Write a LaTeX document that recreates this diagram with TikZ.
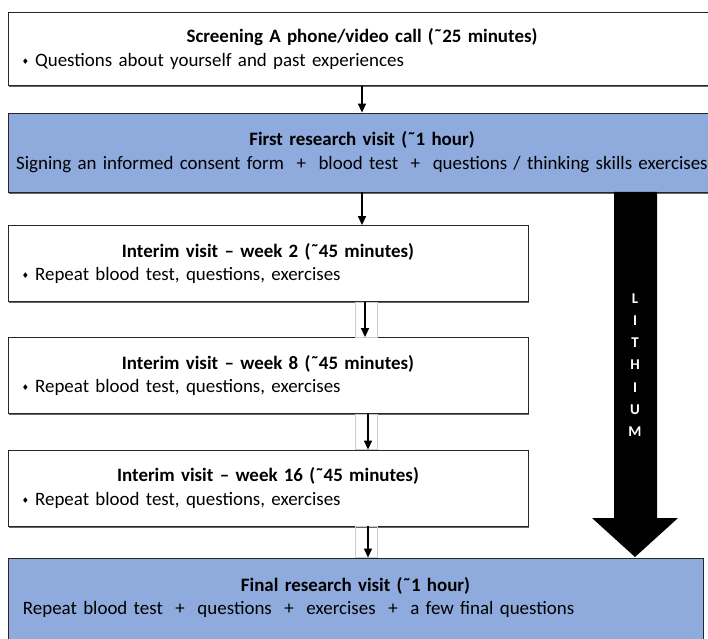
\documentclass[tikz,border=0pt]{standalone}
\usepackage{fontspec}
\setmainfont{Carlito}
\newfontfamily\symbolfont{DejaVu Sans}
\usetikzlibrary{arrows.meta,shadows}

\definecolor{visitblue}{HTML}{8FAADC}
\tikzset{
    visitbox/.style={rectangle, draw=black!85, line width=0.8bp, fill=white, inner xsep=14bp, inner ysep=0pt,
        align=center, font=\fontsize{19}{24}\selectfont,
        drop shadow={shadow xshift=1.2bp, shadow yshift=-1.6bp, fill=black!60, opacity=1}},
    bluebox/.style={visitbox, fill=visitblue},
    interim/.style={visitbox, minimum width=520bp, minimum height=76bp, text width=492bp},
    flow/.style={-{Triangle[length=9bp,width=8bp]}, line width=1.4bp},
    guide/.style={draw=black!20, line width=0.5bp}
}
\newcommand{\itembullet}{\raisebox{0.12em}{\symbolfont\fontsize{8}{8}\selectfont ♦}\hspace{6bp}}
\newcommand{\bulletline}[1]{\makebox[\hsize][l]{\itembullet #1}}

\begin{document}
\begin{tikzpicture}[x=1bp, y=-1bp]
    \useasboundingbox (0,0) rectangle (708,639);
    \clip (0,0) rectangle (708,639);

    \node[visitbox, minimum width=708bp, minimum height=73bp, text width=680bp] (screening) at (362,49)
        {\textbf{Screening A phone/video call (˜25 minutes)}\\\bulletline{Questions about yourself and past experiences}};
    \node[bluebox, minimum width=708bp, minimum height=79bp, text width=708bp, inner xsep=0pt] (firstvisit) at (362,152.5)
        {\textbf{First research visit (˜1 hour)}\\Signing an informed consent form \ + \ blood test \ + \ questions / thinking skills exercises};
    \node[interim] (week2) at (268,263.5)
        {\textbf{Interim visit – week 2 (˜45 minutes)}\\\bulletline{Repeat blood test, questions, exercises}};
    \node[interim] (week8) at (268,375.5)
        {\textbf{Interim visit – week 8 (˜45 minutes)}\\\bulletline{Repeat blood test, questions, exercises}};
    \node[interim] (week16) at (268,488)
        {\textbf{Interim visit – week 16 (˜45 minutes)}\\\bulletline{Repeat blood test, questions, exercises}};
    \node[bluebox, minimum width=695bp, minimum height=100bp, text width=665bp, inner xsep=15bp] (finalvisit) at (355.5,608)
        {\textbf{Final research visit (˜1 hour)}\\\makebox[\hsize][l]{Repeat blood test \ + \ questions \ + \ exercises \ + \ a few final questions\rule[-24bp]{0pt}{0pt}}};

    \draw[flow] (screening) -- (firstvisit);
    \draw[flow] (firstvisit.south) -- (firstvisit.south |- week2.north);
    \draw[guide] ([xshift=87bp]week2.south) rectangle ([xshift=109bp]week8.north);
    \draw[flow] ([xshift=97bp]week2.south) -- ([xshift=97bp]week8.north);
    \draw[guide] ([xshift=87bp]week8.south) rectangle ([xshift=109bp]week16.north);
    \draw[flow] ([xshift=100bp]week8.south) -- ([xshift=100bp]week16.north);
    \draw[guide] ([xshift=87bp]week16.south) rectangle ([xshift=109bp]week16.south |- finalvisit.north);
    \draw[flow] ([xshift=100bp]week16.south) -- ([xshift=100bp]week16.south |- finalvisit.north);

    \fill[black] (614,192) -- (657,192) -- (657,518) -- (678,518) -- (635,557) -- (592,518) -- (614,518) -- cycle;
    \node[text=white, align=center, font=\bfseries\fontsize{15}{22.3}\selectfont] (lithium) at (635,365) {L\\I\\T\\H\\I\\U\\M};
\end{tikzpicture}
\end{document}
